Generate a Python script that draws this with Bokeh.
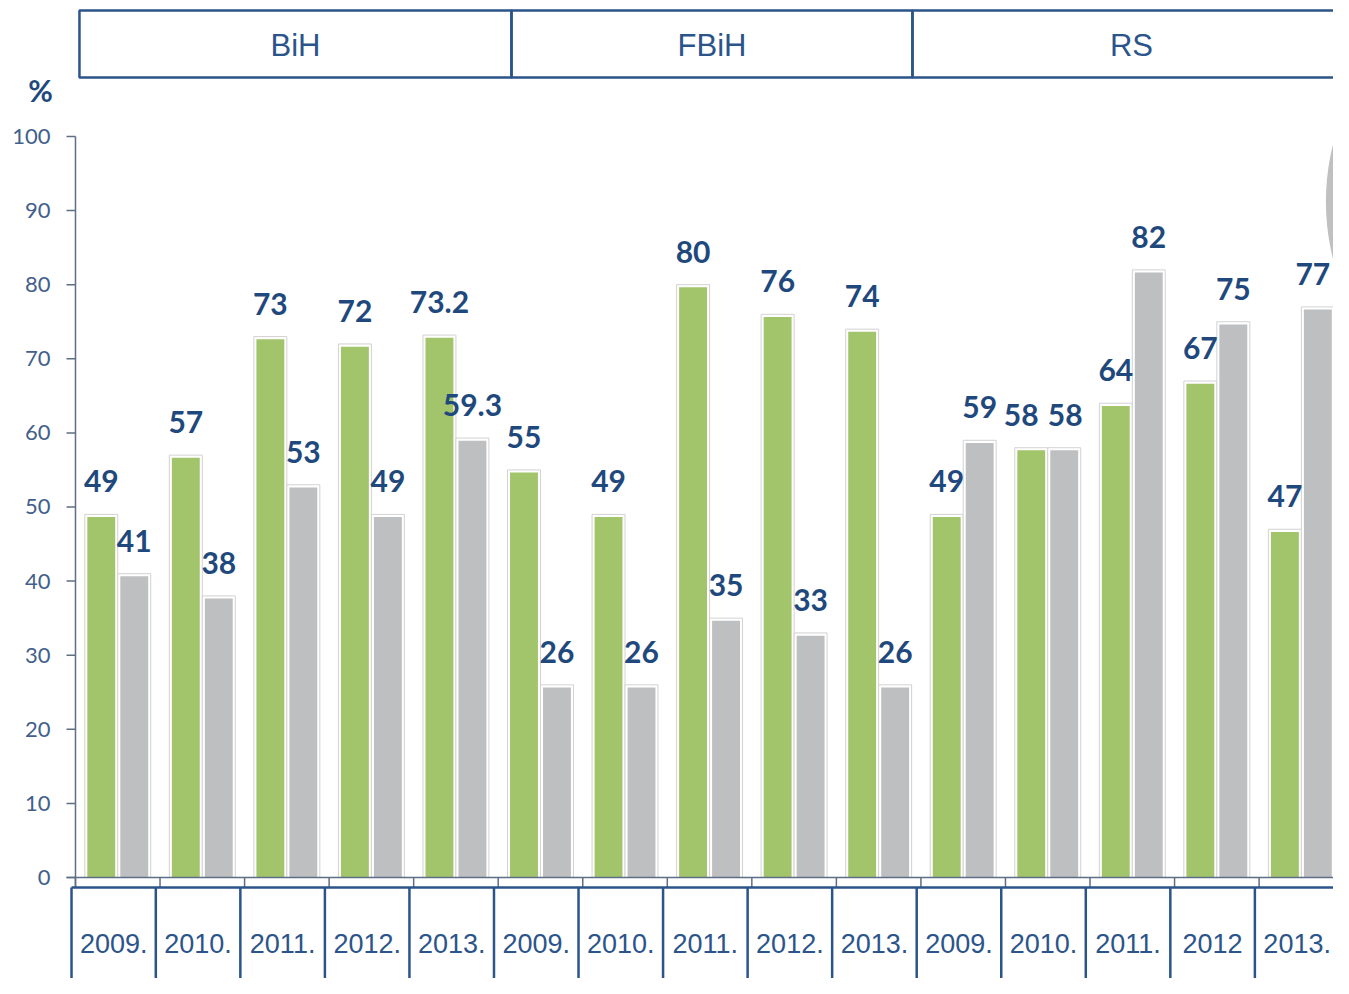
from bokeh.plotting import figure
from bokeh.models import ColumnDataSource, Range1d
from bokeh.core.properties import value
from bokeh.embed import file_html
from bokeh.resources import INLINE

# ---------------- data ----------------
regions = ["BiH", "FBiH", "RS"]
years = ["2009.", "2010.", "2011.", "2012.", "2013.",
         "2009.", "2010.", "2011.", "2012.", "2013.",
         "2009.", "2010.", "2011.", "2012", "2013."]
green_vals = [49, 57, 73, 72, 73.2, 55, 49, 80, 76, 74, 49, 58, 64, 67, 47]
gray_vals = [41, 38, 53, 49, 59.3, 26, 26, 35, 33, 26, 59, 58, 82, 75, 77]
y_ticks = [0, 10, 20, 30, 40, 50, 60, 70, 80, 90, 100]
unit_label = "%"

# ---------------- layout / style ----------------
W, H = 1333, 978
X0, X1 = -0.887, 14.88
Y0, Y1 = -13.63, 118.35
SLOT = 0.39
SIDE_INSET = 0.03
TOP_INSET = 0.36
TICK_LEN = 0.106
TICK_LABEL_X = -0.296
TABLE_TOP = -1.35
TABLE_SHIFT = -0.05
TABLE_LEFT = -0.047
TABLE_TEXT_Y = -8.9
HEADER_EDGES = [0.047, 5.157, 9.90, 15.08]
HEADER_TOP, HEADER_BOTTOM = 117.0, 107.96
HEADER_TEXT_Y = 112.3
UNIT_X, UNIT_Y = -0.414, 106.3
# small horizontal nudges (px) of value labels that would otherwise collide / be cut
GREEN_LABEL_DX = [0, 0, 0, 0, 0, 0, 0, 0, 0, 0, 0, -10, 0, 0, 0]
GRAY_LABEL_DX = [0, 0, 0, 0, 0, 0, 0, 0, 0, 0, 0, 1, 0, 0, -5]

GREEN = "#A2C46A"
GRAY = "#BEBFC1"
OUTLINE = "#D2D2D2"
BLUE = "#2B548A"
LABEL_BLUE = "#1F497D"
AXIS = "#5E6E86"
TICK = "#42608C"

n = len(years)
centers = [i + 0.5 for i in range(n)]

def fmt(v):
    return f"{v:.1f}" if v != int(v) else str(int(v))

src = ColumnDataSource(dict(
    gx=[c - SLOT / 2 for c in centers],
    sx=[c + SLOT / 2 for c in centers],
    g=green_vals, s=gray_vals,
    g_in=[v - TOP_INSET for v in green_vals],
    s_in=[v - TOP_INSET for v in gray_vals],
    g_lbl=[fmt(v) for v in green_vals],
    s_lbl=[fmt(v) for v in gray_vals],
    g_dx=GREEN_LABEL_DX, s_dx=GRAY_LABEL_DX,
))

p = figure(width=W, height=H, output_backend="svg", toolbar_location=None,
           x_range=Range1d(X0, X1), y_range=Range1d(Y0, Y1),
           min_border_left=0, min_border_right=0, min_border_top=0, min_border_bottom=0)
p.axis.visible = False
p.grid.visible = False
p.outline_line_color = None
p.background_fill_color = "white"
p.border_fill_color = "white"

# background decoration circle at right edge
p.circle(x=[17.56], y=[91.2], radius=2.77, fill_color="#C0C0C0", line_color=None)

# bars: outlined slot + inner fill
for xcol, top, top_in, col in (("gx", "g", "g_in", GREEN), ("sx", "s", "s_in", GRAY)):
    p.vbar(x=xcol, top=top, bottom=0, width=SLOT, source=src,
           fill_color="white", line_color=OUTLINE, line_width=1)
    p.vbar(x=xcol, top=top_in, bottom=0, width=SLOT - 2 * SIDE_INSET, source=src,
           fill_color=col, line_color=None)

# y axis
nt = len(y_ticks)
p.segment(x0=[0], y0=[TABLE_TOP], x1=[0], y1=[max(y_ticks)], line_color=AXIS, line_width=1.5)
p.segment(x0=[-TICK_LEN] * nt, y0=y_ticks, x1=[0] * nt, y1=y_ticks, line_color=AXIS, line_width=1.5)
p.text(x=[TICK_LABEL_X] * nt, y=y_ticks, text=[str(t) for t in y_ticks],
       text_align="right", text_baseline="middle", text_font=value("Lato"),
       text_font_size="22px", text_color=TICK)
p.text(x=[UNIT_X], y=[UNIT_Y], text=[unit_label], text_align="center", text_baseline="middle",
       text_font=value("Lato"), text_font_style="bold", text_font_size="30px", text_color=LABEL_BLUE)

# x axis line and ticks at group boundaries
bounds = list(range(n + 1))
p.segment(x0=[-TICK_LEN], y0=[0], x1=[n], y1=[0], line_color=AXIS, line_width=1.5)
p.segment(x0=bounds, y0=[0] * len(bounds), x1=bounds, y1=[TABLE_TOP] * len(bounds),
          line_color=AXIS, line_width=1.5)

# category table below
edges = [TABLE_LEFT] + [k + TABLE_SHIFT for k in range(1, n + 1)]
p.segment(x0=[edges[0]], y0=[TABLE_TOP], x1=[n + 1], y1=[TABLE_TOP], line_color=BLUE, line_width=2.5)
p.segment(x0=edges[:n], y0=[TABLE_TOP] * n, x1=edges[:n], y1=[Y0 - 1] * n,
          line_color=BLUE, line_width=2.5)
p.text(x=[(edges[k] + edges[k + 1]) / 2 for k in range(n)], y=[TABLE_TEXT_Y] * n, text=years,
       text_align="center", text_baseline="middle", text_font=value("Liberation Sans"),
       text_font_size="27px", text_color=BLUE)

# region header boxes
p.quad(left=HEADER_EDGES[:-1], right=HEADER_EDGES[1:], top=HEADER_TOP, bottom=HEADER_BOTTOM,
       fill_color=None, line_color=BLUE, line_width=2.5)
p.text(x=[(HEADER_EDGES[k] + HEADER_EDGES[k + 1]) / 2 for k in range(len(regions))],
       y=[HEADER_TEXT_Y] * len(regions), text=regions,
       text_align="center", text_baseline="middle", text_font=value("Liberation Sans"),
       text_font_size="31px", text_color=BLUE)

# value labels
for xcol, top, lbl, dx in (("gx", "g", "g_lbl", "g_dx"), ("sx", "s", "s_lbl", "s_dx")):
    p.text(x=xcol, y=top, text=lbl, source=src, text_align="center", text_baseline="alphabetic",
           x_offset=dx, y_offset=-33, text_font=value("Lato"), text_font_style="bold",
           text_font_size="30px", text_color=LABEL_BLUE)

open("out.html", "w").write(file_html(p, INLINE))
